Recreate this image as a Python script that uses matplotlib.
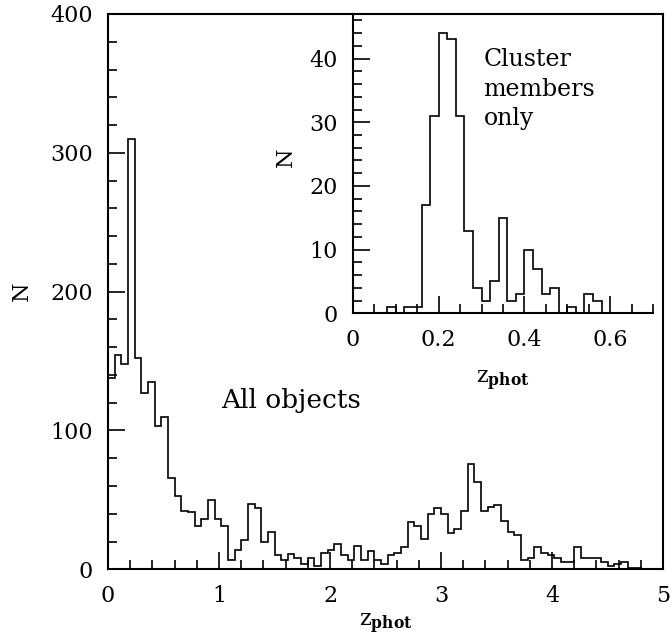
import numpy as np
import matplotlib
matplotlib.use('Agg')
import matplotlib.pyplot as plt

plt.rcParams['font.family'] = 'DejaVu Serif'
plt.rcParams['mathtext.fontset'] = 'custom'
plt.rcParams['mathtext.rm'] = 'DejaVu Serif'
plt.rcParams['mathtext.bf'] = 'DejaVu Serif:bold'

# All objects: counts in bins of 0.06 starting at z=0
bin_width_all = 0.06
counts_all = [138, 154, 148, 310, 152, 127, 135, 103, 110, 66,
              53, 42, 41, 31, 36, 50, 36, 31, 7, 14,
              21, 47, 44, 20, 27, 10, 7, 11, 8, 4,
              8, 2, 12, 14, 18, 10, 7, 17, 7, 13,
              7, 4, 10, 12, 16, 34, 31, 22, 40, 44,
              40, 26, 29, 42, 76, 63, 42, 45, 46, 35,
              27, 25, 7, 8, 16, 12, 10, 8, 5, 5,
              16, 8, 8, 8, 5, 2, 4, 5, 1, 1,
              0, 0, 0]

# Cluster members only: counts in bins of 0.02 starting at z=0
bin_width_cl = 0.02
counts_cl = [0, 0, 0, 0, 1, 0, 1, 1, 17, 31,
             44, 43, 31, 13, 4, 2, 5, 15, 2, 3,
             10, 7, 3, 4, 0, 1, 0, 3, 2, 0]

edges_all = np.arange(len(counts_all) + 1) * bin_width_all
edges_cl = np.arange(len(counts_cl) + 1) * bin_width_cl

fig = plt.figure(figsize=(6.72, 6.41), dpi=100)

# main panel
ax = fig.add_axes([0.1607, 0.1119, 0.826, 0.8663])
ax.stairs(counts_all, edges_all, color='black', linewidth=1.2, baseline=0)
ax.set_xlim(0, 5)
ax.set_ylim(0, 400)
ax.set_xticks([0, 1, 2, 3, 4, 5])
ax.set_xticks(np.arange(0, 5.01, 0.2), minor=True)
ax.set_yticks([0, 100, 200, 300, 400])
ax.set_yticks(np.arange(0, 401, 20), minor=True)
ax.tick_params(which='both', direction='in', top=False, right=False,
               labelsize=16, pad=11, width=1.2)
ax.tick_params(which='major', length=12.5)
ax.tick_params(which='minor', length=6.2)
for s in ax.spines.values():
    s.set_linewidth(1.5)
ax.set_xlabel(r'$\mathrm{z}_{\mathbf{phot}}$', fontsize=16, labelpad=4)
ax.set_ylabel('N', fontsize=16)
ax.yaxis.set_label_coords(-0.136, 0.5)
ax.text(0.203, 0.29, 'All objects', transform=ax.transAxes, fontsize=19,
        ha='left', va='baseline')

# inset panel
ax2 = fig.add_axes([0.5253, 0.5112, 0.4464, 0.467])
ax2.patch.set_alpha(0)
ax2.stairs(counts_cl, edges_cl, color='black', linewidth=1.2, baseline=0)
ax2.set_xlim(0, 0.7)
ax2.set_ylim(0, 47)
ax2.set_xticks([0, 0.2, 0.4, 0.6])
ax2.set_xticklabels(['0', '0.2', '0.4', '0.6'])
ax2.set_xticks(np.arange(0, 0.701, 0.05), minor=True)
ax2.set_yticks([0, 10, 20, 30, 40])
ax2.set_yticks(np.arange(0, 47, 2), minor=True)
ax2.tick_params(which='both', direction='in', top=False, right=False,
                labelsize=16, pad=11, width=1.2)
ax2.tick_params(which='major', length=12.5)
ax2.tick_params(which='minor', length=6.2)
ax2.spines['top'].set_visible(False)
ax2.spines['right'].set_visible(False)
ax2.spines['left'].set_linewidth(1.5)
ax2.spines['bottom'].set_linewidth(1.5)
ax2.set_xlabel(r'$\mathrm{z}_{\mathbf{phot}}$', fontsize=16, labelpad=13)
ax2.set_ylabel('N', fontsize=16)
ax2.yaxis.set_label_coords(-0.187, 0.52)
ax2.text(0.435, 0.885, 'Cluster\nmembers\nonly', transform=ax2.transAxes,
         fontsize=17, ha='left', va='top', linespacing=1.35)

fig.savefig('out.png', dpi=100)
